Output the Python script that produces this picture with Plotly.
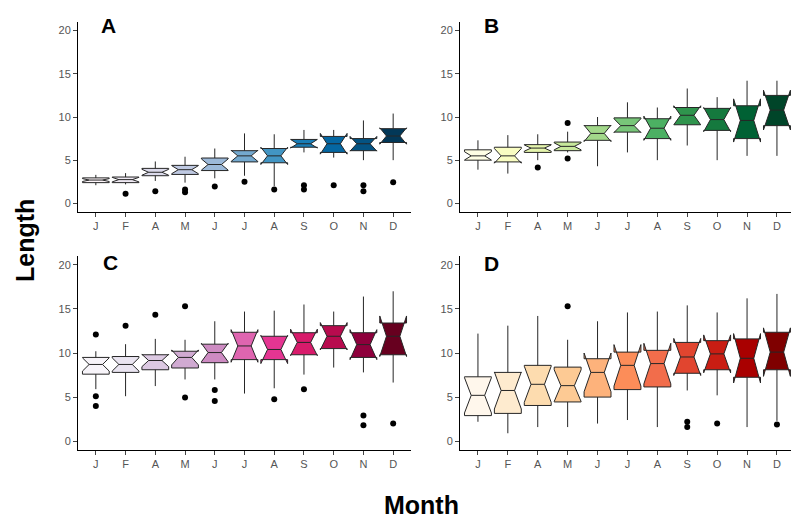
import plotly.graph_objects as go
import plotly.colors as pc

months = ["J", "F", "A", "M", "J", "J", "A", "S", "O", "N", "D"]
y_ticks = [0, 5, 10, 15, 20]

# ---- Panel A ----
a_q1 = [2.4, 2.4, 3.2, 3.35, 3.8, 4.8, 4.7, 6.5, 5.9, 6.1, 7.05]
a_med = [2.7, 2.75, 3.6, 3.9, 4.5, 5.5, 5.5, 6.9, 6.9, 6.9, 7.8]
a_q3 = [2.95, 3.05, 4.05, 4.4, 5.25, 6.1, 6.35, 7.4, 7.75, 7.5, 8.65]
a_lo = [2.1, 2.2, 2.6, 2.4, 2.9, 3.2, 2.0, 5.9, 5.3, 5.0, 5.0]
a_hi = [3.3, 3.5, 4.85, 5.4, 6.35, 8.1, 8.0, 8.5, 8.5, 9.6, 10.4]
a_notch = [0.17, 0.26, 0.34, 0.47, 0.65, 0.65, 1.0, 0.5, 1.2, 0.85, 0.95]
a_out_x = [1, 2, 3, 3, 4, 5, 6, 7, 7, 8, 9, 9, 10]
a_out_y = [1.1, 1.4, 1.3, 1.6, 1.95, 2.5, 1.6, 2.1, 1.6, 2.1, 2.1, 1.4, 2.45]

# ---- Panel B ----
b_q1 = [5.0, 4.8, 5.9, 6.1, 7.3, 8.25, 7.5, 9.1, 8.45, 7.5, 9.0]
b_med = [5.5, 5.5, 6.4, 6.6, 8.1, 9.0, 8.7, 10.2, 9.7, 9.6, 10.8]
b_q3 = [6.2, 6.5, 6.8, 7.1, 9.0, 9.9, 9.8, 11.1, 11.0, 11.3, 12.5]
b_lo = [3.9, 3.45, 5.0, 5.9, 4.3, 5.9, 5.0, 6.7, 5.0, 5.5, 5.5]
b_hi = [7.3, 7.9, 8.0, 8.3, 10.0, 11.7, 11.1, 13.3, 12.3, 14.2, 14.2]
b_notch = [0.48, 0.85, 0.36, 0.4, 0.95, 0.8, 1.4, 1.1, 1.4, 2.5, 2.3]
b_out_x = [2, 3, 3]
b_out_y = [4.15, 9.3, 5.2]

# ---- Panel C ----
c_q1 = [7.6, 7.8, 8.1, 8.3, 8.9, 9.25, 9.25, 9.8, 10.5, 9.5, 9.8]
c_med = [8.7, 8.7, 9.15, 9.5, 10.05, 10.8, 10.4, 11.2, 11.9, 10.95, 11.9]
c_q3 = [9.5, 9.6, 9.8, 10.2, 11.0, 12.35, 11.9, 12.3, 13.1, 12.3, 13.4]
c_lo = [5.9, 5.1, 6.25, 7.0, 7.0, 5.4, 6.0, 7.55, 8.35, 7.8, 6.65]
c_hi = [10.2, 11.0, 11.6, 11.5, 13.6, 14.7, 14.8, 15.5, 14.7, 16.4, 17.0]
c_notch = [0.75, 0.75, 0.7, 0.85, 1.05, 1.85, 1.6, 1.5, 1.55, 1.7, 2.3]
c_out_x = [0, 0, 0, 1, 2, 3, 3, 4, 4, 6, 7, 9, 9, 10]
c_out_y = [12.1, 5.1, 4.0, 13.1, 14.35, 15.3, 4.95, 5.8, 4.55, 4.75, 5.9, 2.9, 1.8, 2.0]

# ---- Panel D ----
d_q1 = [2.9, 3.15, 4.05, 4.45, 5.0, 5.85, 6.15, 7.7, 8.1, 7.25, 8.1]
d_med = [5.2, 5.75, 6.45, 6.3, 7.8, 8.6, 8.8, 9.55, 9.9, 9.4, 10.1]
d_q3 = [7.3, 7.8, 8.6, 8.4, 9.35, 10.1, 10.3, 11.2, 11.4, 11.6, 12.35]
d_lo = [2.2, 0.9, 1.6, 1.6, 2.0, 2.4, 1.6, 5.75, 5.2, 1.6, 2.3]
d_hi = [12.2, 13.1, 14.2, 11.5, 13.6, 14.6, 14.7, 15.4, 14.6, 16.2, 16.7]
d_notch = [2.0, 2.1, 2.05, 1.8, 2.2, 2.35, 2.3, 2.1, 2.15, 2.8, 2.75]
d_out_x = [3, 7, 7, 8, 10]
d_out_y = [15.3, 2.2, 1.6, 2.0, 1.9]

panels = [
    ("A", a_q1, a_med, a_q3, a_lo, a_hi, a_notch, a_out_x, a_out_y, pc.sequential.PuBu, "x", "y"),
    ("B", b_q1, b_med, b_q3, b_lo, b_hi, b_notch, b_out_x, b_out_y, pc.sequential.YlGn, "x2", "y2"),
    ("C", c_q1, c_med, c_q3, c_lo, c_hi, c_notch, c_out_x, c_out_y, pc.sequential.PuRd, "x3", "y3"),
    ("D", d_q1, d_med, d_q3, d_lo, d_hi, d_notch, d_out_x, d_out_y, pc.sequential.OrRd, "x4", "y4"),
]

fig = go.Figure()
for name, q1, med, q3, lo, hi, notch, ox, oy, scale, xa, ya in panels:
    cols = pc.sample_colorscale(scale, [i / 10 for i in range(11)])
    for i in range(len(months)):
        fig.add_trace(go.Box(
            x=[i], q1=[q1[i]], median=[med[i]], q3=[q3[i]],
            lowerfence=[lo[i]], upperfence=[hi[i]], notchspan=[notch[i]],
            notched=True, notchwidth=0.25, boxpoints=False, width=0.9,
            whiskerwidth=0, fillcolor=cols[i],
            line=dict(color="#262626", width=1),
            showlegend=False, xaxis=xa, yaxis=ya, hoverinfo="skip",
        ))
    fig.add_trace(go.Scatter(
        x=ox, y=oy, mode="markers",
        marker=dict(color="black", size=6),
        showlegend=False, xaxis=xa, yaxis=ya, hoverinfo="skip",
    ))

W, H = 791, 521
def px_dom(a, b, total):
    return [a / total, b / total]

xdomA = px_dom(78, 411, W)
xdomB = px_dom(460, 791, W)
ydomTop = [1 - 212 / H, 1 - 22 / H]
ydomBot = [1 - 450 / H, 1 - 256 / H]

tickfont = dict(family="Liberation Sans, Arial, sans-serif", size=11, color="#555555")
xcommon = dict(tickmode="array", tickvals=list(range(11)), ticktext=months,
               showline=True, linecolor="black", linewidth=1, ticks="outside",
               ticklen=4, tickcolor="#444444", showgrid=False, zeroline=False,
               tickfont=tickfont, automargin=False)
ycommon = dict(tickmode="array", tickvals=y_ticks, ticktext=[str(t) for t in y_ticks],
               range=[-1, 21], showline=True, linecolor="black", linewidth=1,
               ticks="outside", ticklen=4, tickcolor="#444444", showgrid=False,
               zeroline=False, tickfont=tickfont, automargin=False)

fig.update_layout(
    width=W, height=H,
    margin=dict(l=0, r=0, t=0, b=0),
    paper_bgcolor="white", plot_bgcolor="white",
    boxmode="overlay",
    xaxis=dict(domain=xdomA, anchor="y", range=[-0.6, 10.6], **xcommon),
    yaxis=dict(domain=ydomTop, anchor="x", **ycommon),
    xaxis2=dict(domain=xdomB, anchor="y2", range=[-0.6, 10.47], **xcommon),
    yaxis2=dict(domain=ydomTop, anchor="x2", **ycommon),
    xaxis3=dict(domain=xdomA, anchor="y3", range=[-0.6, 10.6], **xcommon),
    yaxis3=dict(domain=ydomBot, anchor="x3", **ycommon),
    xaxis4=dict(domain=xdomB, anchor="y4", range=[-0.6, 10.47], **xcommon),
    yaxis4=dict(domain=ydomBot, anchor="x4", **ycommon),
)

bold = dict(family="Liberation Sans, Arial, sans-serif", size=21, color="black")
letters = [("<b>A</b>", 108, 25), ("<b>B</b>", 492, 25), ("<b>C</b>", 110, 262), ("<b>D</b>", 492, 263)]
for txt, x, y in letters:
    fig.add_annotation(text=txt, x=x / W, y=1 - y / H, xref="paper", yref="paper",
                       showarrow=False, xanchor="center", yanchor="middle", font=bold)

title_font = dict(family="Liberation Sans, Arial, sans-serif", size=25, color="black")
fig.add_annotation(text="<b>Length</b>", x=25 / W, y=1 - 240 / H, xref="paper", yref="paper",
                   showarrow=False, textangle=-90, xanchor="center", yanchor="middle", font=title_font)
fig.add_annotation(text="<b>Month</b>", x=421 / W, y=1 - 505 / H, xref="paper", yref="paper",
                   showarrow=False, xanchor="center", yanchor="middle", font=title_font)

fig.write_html(
    "out.html",
    config={"displayModeBar": False, "staticPlot": True},
    post_script="document.body.style.margin='0';document.body.style.padding='0';document.body.style.overflow='hidden';",
)
